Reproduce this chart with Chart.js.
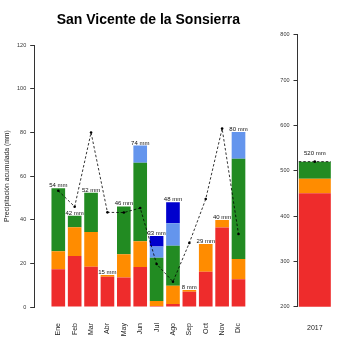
<!DOCTYPE html>
<html><head><meta charset="utf-8">
<script src="https://cdn.jsdelivr.net/npm/chart.js@4/dist/chart.umd.min.js"></script>
<style>
html,body{margin:0;padding:0;background:#fff;width:350px;height:350px;overflow:hidden}
</style></head><body>
<div style="position:absolute;left:0;top:0;width:270px;height:350px"><canvas id="c1"></canvas></div>
<div style="position:absolute;left:270px;top:0;width:80px;height:350px"><canvas id="c2"></canvas></div>
<script>
// ---- data ----
const months = ['Ene','Feb','Mar','Abr','May','Jun','Jul','Ago','Sep','Oct','Nov','Dic'];
const redVals       = [17.3,23.4,18.5,13.9,13.5,18.3,0.5,1.4,7.0,16.2,36.4,12.7];
const orangeVals    = [8.3,13.2,15.9,0.8,10.7,11.8,2.3,8.4,0.8,12.7,3.5,9.3];
const greenVals     = [28.8,5.2,18.0,0,21.9,36.1,19.8,18.3,0,0,0,46.0];
const lightBlueVals = [0,0,0,0,0,7.8,5.1,10.3,0,0,0,12.3];
const blueVals      = [0,0,0,0,0,0,4.9,9.6,0,0,0,0];
const meanVals      = [53.3,46.0,80.0,43.4,43.3,45.4,19.7,11.6,29.4,49.5,81.8,33.5];
const yTicksLeft    = [0,20,40,60,80,100,120];

const yearLabels  = ['2017'];
const yearRed     = [450];
const yearOrange  = [32];
const yearGreen   = [38];
const yearMean    = [520];
const yTicksRight = [200,300,400,500,600,700,800];

const titleText = 'San Vicente de la Sonsierra';
const yTitle = 'Precipitación acumulada (mm)';

// ---- styles ----
const COLORS = {red:'#EE2C2C', orange:'#FF8C00', green:'#228B22', lblue:'#6495ED', blue:'#0000CD'};
Chart.defaults.font.family = "'Liberation Sans', Arial, sans-serif";
Chart.defaults.color = '#222';

const mk = arr => arr.map((v,i)=>({x:i,y:v}));
const barDs = (label, data, color, extra) => Object.assign({type:'bar', label, data, backgroundColor:color,
  borderWidth:0, barPercentage:1/1.2, categoryPercentage:1, order:1, stack:'p'}, extra||{});

const leftPlugin = {
  id:'leftDeco',
  afterDatasetsDraw(chart){
    const {ctx, scales:{x,y}} = chart;
    ctx.save();
    ctx.fillStyle = '#111';
    ctx.font = "6px 'Liberation Sans', Arial, sans-serif";
    ctx.textAlign = 'center';
    ctx.textBaseline = 'alphabetic';
    months.forEach((m,i)=>{
      const tot = redVals[i]+orangeVals[i]+greenVals[i]+lightBlueVals[i]+blueVals[i];
      ctx.fillText(Math.round(tot)+' mm', x.getPixelForValue(i), y.getPixelForValue(tot)-1);
    });
    ctx.restore();
  },
  afterDraw(chart){
    const {ctx, chartArea} = chart;
    ctx.save();
    ctx.fillStyle = '#000';
    ctx.font = "bold 14px 'Liberation Sans', Arial, sans-serif";
    ctx.textAlign = 'center';
    ctx.textBaseline = 'alphabetic';
    ctx.fillText(titleText, (chartArea.left+chartArea.right)/2, 24);
    ctx.restore();
  }
};

new Chart(document.getElementById('c1'), {
  type:'bar',
  data:{datasets:[
    {type:'line', label:'media', data:mk(meanVals), borderColor:'#000', borderWidth:0.8, borderDash:[2.5,2],
     pointRadius:1.3, pointBackgroundColor:'#000', pointBorderWidth:0, fill:false, tension:0, order:0, stack:'m'},
    barDs('r', mk(redVals), COLORS.red),
    barDs('o', mk(orangeVals), COLORS.orange),
    barDs('g', mk(greenVals), COLORS.green),
    barDs('lb', mk(lightBlueVals), COLORS.lblue),
    barDs('b', mk(blueVals), COLORS.blue)
  ]},
  options:{
    responsive:true, maintainAspectRatio:false, animation:false, devicePixelRatio:1,
    layout:{padding:{top:45.3,right:7.4,left:0,bottom:0}},
    plugins:{legend:{display:false}, tooltip:{enabled:false}},
    scales:{
      x:{type:'linear', min:-0.89, max:11.89, stacked:true,
         grid:{display:false}, border:{display:false},
         afterBuildTicks:s=>{s.ticks = months.map((m,i)=>({value:i}));},
         afterFit:s=>{s.height = 43;},
         ticks:{autoSkip:false, minRotation:90, maxRotation:90, padding:8, font:{size:7}, color:'#222',
                callback:v=>months[v]}},
      y:{min:0, max:120, stacked:true,
         afterBuildTicks:s=>{s.ticks = yTicksLeft.map(v=>({value:v}));},
         afterFit:s=>{s.width = 34.2;},
         grid:{display:true, drawOnChartArea:false, drawTicks:true, tickLength:4, color:'#333', lineWidth:1},
         border:{display:true, color:'#333', width:1},
         ticks:{padding:4, font:{size:5.5}, color:'#333'},
         title:{display:true, text:yTitle, font:{size:6.8}, color:'#222', padding:{top:3,bottom:0}}}
    }
  },
  plugins:[leftPlugin]
});

const rightPlugin = {
  id:'rightDeco',
  afterDatasetsDraw(chart){
    const {ctx, scales:{y}} = chart;
    const meta = chart.getDatasetMeta(chart.data.datasets.length-1);
    ctx.save();
    yearLabels.forEach((lab,i)=>{
      const el = meta.data[i];
      const x = el.x, w = el.width;
      const ym = y.getPixelForValue(yearMean[i]);
      ctx.strokeStyle = '#000'; ctx.lineWidth = 0.8; ctx.setLineDash([2.5,2]);
      ctx.beginPath(); ctx.moveTo(x-w/2, ym); ctx.lineTo(x+w/2, ym); ctx.stroke();
      ctx.setLineDash([]);
      ctx.fillStyle = '#000';
      ctx.beginPath(); ctx.arc(x, ym, 1.3, 0, Math.PI*2); ctx.fill();
      const tot = yearRed[i]+yearOrange[i]+yearGreen[i];
      ctx.fillStyle = '#111';
      ctx.font = "6px 'Liberation Sans', Arial, sans-serif";
      ctx.textAlign = 'center'; ctx.textBaseline = 'alphabetic';
      ctx.fillText(Math.round(tot)+' mm', x, y.getPixelForValue(tot)-7);
    });
    ctx.restore();
  }
};

const rBar = (label, data, color) => ({type:'bar', label, data, backgroundColor:color, borderWidth:0,
  barPercentage:1/1.08, categoryPercentage:1, clip:0});

new Chart(document.getElementById('c2'), {
  type:'bar',
  data:{labels:yearLabels, datasets:[
    rBar('r', yearRed, COLORS.red),
    rBar('o', yearOrange, COLORS.orange),
    rBar('g', yearGreen, COLORS.green)
  ]},
  options:{
    responsive:true, maintainAspectRatio:false, animation:false, devicePixelRatio:1,
    layout:{padding:{top:34.7,right:17.9,left:0,bottom:0}},
    plugins:{legend:{display:false}, tooltip:{enabled:false}},
    scales:{
      x:{type:'category', offset:true, stacked:true, grid:{display:false}, border:{display:false},
         afterFit:s=>{s.height = 43.3;},
         ticks:{padding:9.5, font:{size:7}, color:'#222', maxRotation:0}},
      y:{min:200, max:800, stacked:true,
         afterBuildTicks:s=>{s.ticks = yTicksRight.map(v=>({value:v}));},
         afterFit:s=>{s.width = 27.5;},
         grid:{display:true, drawOnChartArea:false, drawTicks:true, tickLength:4, color:'#333', lineWidth:1},
         border:{display:true, color:'#333', width:1},
         ticks:{padding:4, font:{size:5.5}, color:'#333'}}
    }
  },
  plugins:[rightPlugin]
});
</script>
</body></html>
